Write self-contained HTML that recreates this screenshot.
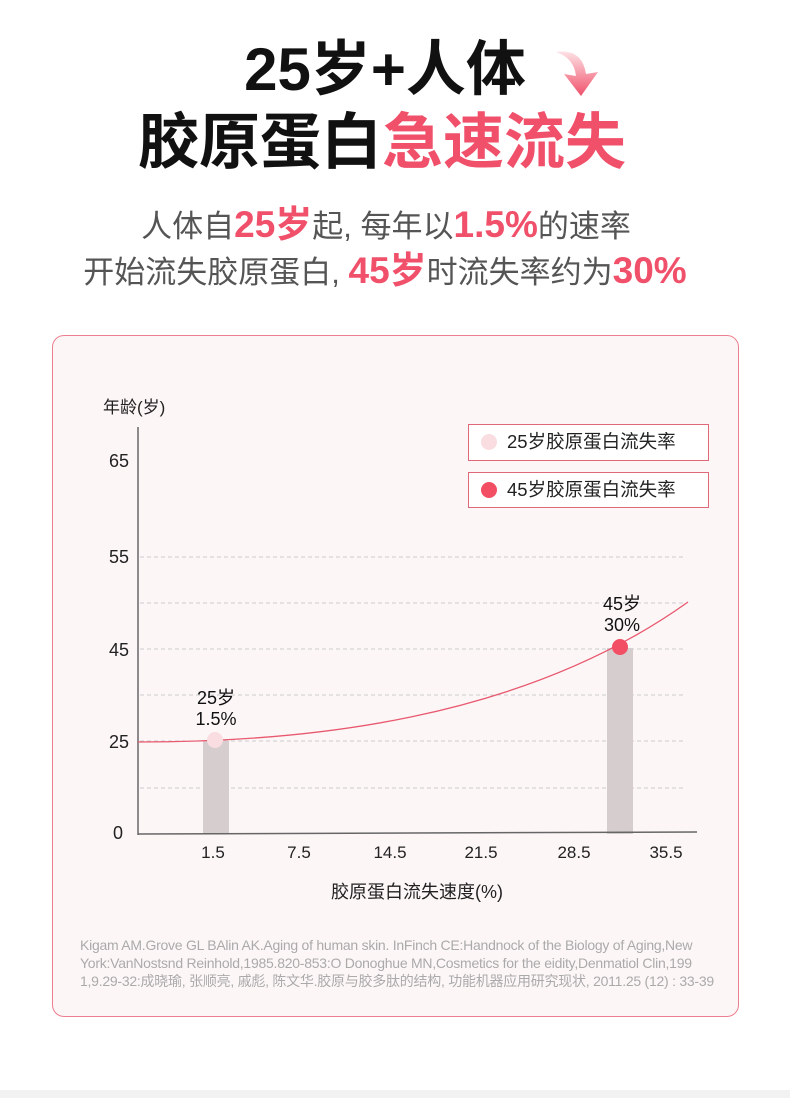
<!DOCTYPE html>
<html><head><meta charset="utf-8"><style>
body{margin:0;width:790px;height:1098px;background:#fff;position:relative;overflow:hidden;font-family:"Liberation Sans","Noto Sans CJK SC",sans-serif}
.a{position:absolute;white-space:nowrap}
.r{color:#f0506a;font-weight:bold}
</style></head><body>
<div class="a" style="left:0;width:770px;text-align:center;top:34px;font-size:60px;font-weight:bold;line-height:72px;color:#111">25岁+人体</div>
<svg class="a" style="left:552px;top:44px" width="52" height="54"><defs><linearGradient id="g" x1="0" y1="0" x2="0" y2="1"><stop offset="0" stop-color="#fde2e6"/><stop offset="1" stop-color="#f0506a"/></linearGradient></defs><path d="M4,8 Q30,4 34,30 L46,28 L29,52 L12,30 L24,32 Q22,14 4,8Z" fill="url(#g)"/></svg>
<div class="a" style="left:138px;top:104px;font-size:61px;font-weight:bold;line-height:76px;color:#111">胶原蛋白<span style="color:#f0506a">急速流失</span></div>
<div class="a" style="left:0;width:772px;text-align:center;top:203px;font-size:31px;line-height:44px;color:#555">人体自<span class="r" style="font-size:37px">25岁</span>起, 每年以<span class="r" style="font-size:37px">1.5%</span>的速率</div>
<div class="a" style="left:0;width:770px;text-align:center;top:249px;font-size:31px;line-height:44px;color:#555">开始流失胶原蛋白, <span class="r" style="font-size:37px">45岁</span>时流失率约为<span class="r" style="font-size:37px">30%</span></div>
<div class="a" style="left:52px;top:335px;width:685px;height:680px;border:1.5px solid #ec7f8f;border-radius:12px;background:#fdf6f7"></div>
<svg class="a" style="left:0;top:0" width="790" height="1098" font-family="Liberation Sans, Noto Sans CJK SC, sans-serif">
<g stroke="#ccc" stroke-dasharray="4,3" stroke-width="1">
<line x1="140" y1="557" x2="684" y2="557"/><line x1="140" y1="603" x2="684" y2="603"/><line x1="140" y1="649" x2="684" y2="649"/><line x1="140" y1="695" x2="684" y2="695"/><line x1="140" y1="741" x2="684" y2="741"/><line x1="140" y1="788" x2="684" y2="788"/></g>
<rect x="203" y="741" width="26" height="93" fill="#d6cdcf"/>
<rect x="607" y="648" width="26" height="186" fill="#d6cdcf"/>
<line x1="138" y1="427" x2="138" y2="835" stroke="#666" stroke-width="1.5"/>
<line x1="138" y1="834" x2="697" y2="832" stroke="#666" stroke-width="1.5"/>
<path d="M138,742 C300,742 520,722 688,602" fill="none" stroke="#e8586e" stroke-width="1.3"/>
<circle cx="215" cy="740" r="8" fill="#f9dde1"/>
<circle cx="620" cy="647" r="8" fill="#f24f64"/>
<g font-size="18" fill="#222" text-anchor="end"><text x="129" y="467">65</text><text x="129" y="563">55</text><text x="129" y="656">45</text><text x="129" y="748">25</text><text x="123" y="839">0</text></g>
<g font-size="17" fill="#222" text-anchor="middle"><text x="213" y="858">1.5</text><text x="299" y="858">7.5</text><text x="390" y="858">14.5</text><text x="481" y="858">21.5</text><text x="574" y="858">28.5</text><text x="666" y="858">35.5</text></g>
<g font-size="18" fill="#111" text-anchor="middle"><text x="216" y="704">25岁</text><text x="216" y="725">1.5%</text><text x="622" y="610">45岁</text><text x="622" y="631">30%</text></g>
<text x="103" y="413" font-size="17" fill="#222">年龄(岁)</text>
<text x="417" y="898" font-size="18" fill="#222" text-anchor="middle">胶原蛋白流失速度(%)</text>
<rect x="468.5" y="424.5" width="240" height="36" fill="#fff" stroke="#e06878"/>
<rect x="468.5" y="472.5" width="240" height="35" fill="#fff" stroke="#e06878"/>
<circle cx="489" cy="442" r="8" fill="#f9dde1"/><circle cx="489" cy="490" r="8" fill="#f24f64"/>
<text x="507" y="448" font-size="18.5" fill="#222">25岁胶原蛋白流失率</text>
<text x="507" y="496" font-size="18.5" fill="#222">45岁胶原蛋白流失率</text>
</svg>
<div class="a" style="left:80px;top:936px;font-size:14px;line-height:18px;color:#aaa;letter-spacing:-0.25px">Kigam AM.Grove GL BAlin AK.Aging of human skin. InFinch CE:Handnock of the Biology of Aging,New<br>York:VanNostsnd Reinhold,1985.820-853:O Donoghue MN,Cosmetics for the eidity,Denmatiol Clin,199<br>1,9.29-32:成晓瑜, 张顺亮, 戚彪, 陈文华.胶原与胶多肽的结构, 功能机器应用研究现状, 2011.25 (12) : 33-39</div>
<div class="a" style="left:0;top:1090px;width:790px;height:8px;background:#f2f2f2"></div>
</body></html>
